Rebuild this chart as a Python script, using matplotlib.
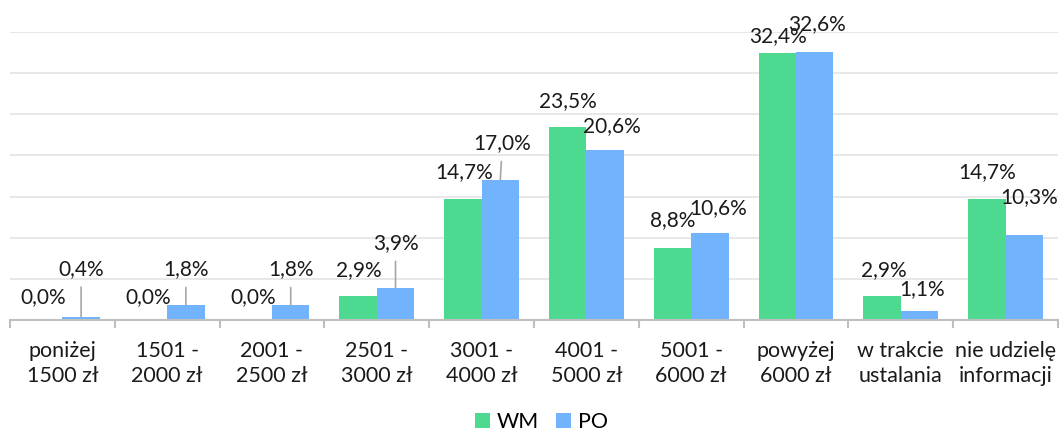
import matplotlib.pyplot as plt
import numpy as np

plt.rcParams['font.family'] = ['Lato', 'DejaVu Sans']

categories = ["poniżej\n1500 zł", "1501 -\n2000 zł", "2001 -\n2500 zł", "2501 -\n3000 zł",
              "3001 -\n4000 zł", "4001 -\n5000 zł", "5001 -\n6000 zł", "powyżej\n6000 zł",
              "w trakcie\nustalania", "nie udzielę\ninformacji"]
wm = [0.0, 0.0, 0.0, 2.9, 14.7, 23.5, 8.8, 32.4, 2.9, 14.7]
po = [0.4, 1.8, 1.8, 3.9, 17.0, 20.6, 10.6, 32.6, 1.1, 10.3]

# label offsets in pixels (dx, dy), as placed in the original chart
wm_off = [(-1, 23), (0, 23), (0, 23), (1, 26), (1, 27), (0, 26), (0, 27), (1, 17), (2, 26), (0, 27)]
po_off = [(0, 48), (0, 36), (0, 36), (0, 45), (2, 37), (7, 24), (8, 25), (2, 28), (3, 22), (5, 38)]
po_leader = [True, True, True, True, True, False, False, False, False, False]

green = '#4dd98f'
blue = '#71b4fd'
text_col = '#1a1a1a'
line_col = '#a6a6a6'

fig = plt.figure(figsize=(10.6, 4.32), dpi=100)
ax = fig.add_axes([10 / 1060, 1 - 320 / 432, 1048 / 1060, 288 / 432])

x = np.arange(len(categories))
w = 0.357
ax.bar(x - w / 2, wm, w, color=green, label='WM', zorder=2)
ax.bar(x + w / 2, po, w, color=blue, label='PO', zorder=2)

for i, v in enumerate(wm):
    ax.annotate(f"{v:.1f}".replace('.', ',') + '%', (x[i] - w / 2, v),
                xytext=wm_off[i], textcoords='offset pixels',
                ha='center', va='center', fontsize=15, color=text_col, zorder=3)

for i, v in enumerate(po):
    props = None
    if po_leader[i]:
        props = dict(arrowstyle='-', color=line_col, lw=1.2, shrinkA=4, shrinkB=0)
    ax.annotate(f"{v:.1f}".replace('.', ',') + '%', (x[i] + w / 2, v),
                xytext=po_off[i], textcoords='offset pixels',
                ha='center', va='center', fontsize=15, color=text_col, zorder=3,
                arrowprops=props)

ax.set_xlim(-0.5, len(categories) - 0.5)
ax.set_ylim(0, 35)
ax.set_yticks(np.arange(0, 36, 5))
ax.yaxis.grid(True, color='#e8e8e8', lw=1.5, zorder=0)
ax.tick_params(axis='y', left=False, labelleft=False)

ax.set_xticks(x)
ax.set_xticklabels(categories, fontsize=15.5, color=text_col, linespacing=1.3)
ax.set_xticks(np.arange(-0.5, len(categories)), minor=True)
ax.tick_params(axis='x', which='major', length=0, pad=15)
ax.tick_params(axis='x', which='minor', length=6, width=1.5, color='#bfbfbf', direction='out')

for s in ['top', 'right', 'left']:
    ax.spines[s].set_visible(False)
ax.spines['bottom'].set_color('#bfbfbf')
ax.spines['bottom'].set_linewidth(1.5)

fig.legend(loc='lower center', bbox_to_anchor=(0.511, -0.045), ncol=2, frameon=False,
           fontsize=15.5, handlelength=0.7, handleheight=0.7, handletextpad=0.3,
           columnspacing=0.8)

fig.savefig('out.png', dpi=100)
